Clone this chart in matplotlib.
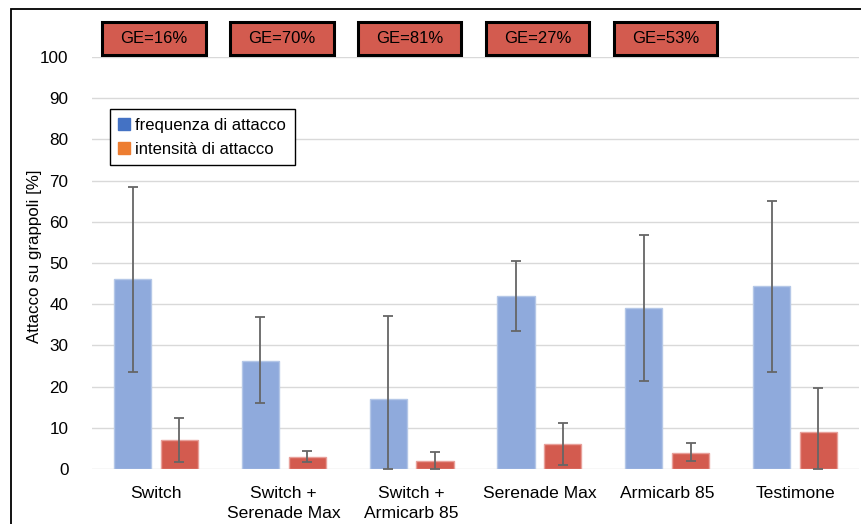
import matplotlib.pyplot as plt
import matplotlib.patches as mpatches
import matplotlib.transforms as mtransforms
import numpy as np

plt.rcParams['font.family'] = ['Liberation Sans', 'DejaVu Sans']

categories = ['Switch', 'Switch +\nSerenade Max', 'Switch +\nArmicarb 85',
              'Serenade Max', 'Armicarb 85', 'Testimone']
freq = [46.0, 26.3, 17.0, 42.0, 39.0, 44.3]
freq_low = [23.5, 16.0, 0.0, 33.5, 21.3, 23.5]
freq_high = [68.5, 37.0, 37.2, 50.5, 56.8, 65.0]
inten = [7.0, 3.0, 2.0, 6.0, 4.0, 9.0]
inten_low = [1.8, 1.8, 0.0, 1.0, 1.9, 0.0]
inten_high = [12.3, 4.3, 4.2, 11.2, 6.3, 19.7]
ge_labels = ['GE=16%', 'GE=70%', 'GE=81%', 'GE=27%', 'GE=53%']

W, H = 862, 524
fig = plt.figure(figsize=(W / 100, H / 100), dpi=100)
ax = fig.add_axes([92 / W, (H - 469) / H, (859 - 92) / W, (469 - 57) / H])

x = np.arange(len(categories))
bw = 0.29
off = 0.183

fe = [np.array(freq) - np.array(freq_low), np.array(freq_high) - np.array(freq)]
ie = [np.array(inten) - np.array(inten_low), np.array(inten_high) - np.array(inten)]

ax.bar(x - off, freq, bw, color='#8FAADC', edgecolor='#B4C7E7', linewidth=1, zorder=2)
ax.bar(x + off, inten, bw, color='#D35B4F', edgecolor='#E8A09A', linewidth=1, zorder=2)
ax.errorbar(x - off, freq, yerr=fe, fmt='none', ecolor='#666666', elinewidth=1.3,
            capsize=3.5, capthick=1.3, zorder=3)
ax.errorbar(x + off, inten, yerr=ie, fmt='none', ecolor='#666666', elinewidth=1.3,
            capsize=3.5, capthick=1.3, zorder=3)

ax.set_xlim(-0.5, len(categories) - 0.5)
ax.set_ylim(0, 100)
ax.set_yticks(np.arange(0, 101, 10))
ax.yaxis.grid(True, color='#D9D9D9', linewidth=1)
ax.set_axisbelow(True)
for s in ax.spines.values():
    s.set_visible(False)
ax.tick_params(axis='y', length=0, pad=17, labelsize=12.3)
ax.tick_params(axis='x', length=0, pad=12, labelsize=12.6)
ax.set_xticks(x)
ax.set_xticklabels(categories, linespacing=1.45)
ax.set_ylabel('Attacco su grappoli [%]', fontsize=12.2)
ax.yaxis.set_label_coords(-0.065, 0.517)

# legend with the default office colours
handles = [mpatches.Patch(color='#4472C4', label='frequenza di attacco'),
           mpatches.Patch(color='#ED7D31', label='intensità di attacco')]
leg = ax.legend(handles=handles, loc='upper left', bbox_to_anchor=(0.023, 0.873),
                borderaxespad=0, fontsize=12, handlelength=0.7, handleheight=0.7,
                handletextpad=0.35, labelspacing=0.55, fancybox=False, framealpha=1,
                borderpad=0.5)
leg.get_frame().set_edgecolor('black')
leg.get_frame().set_linewidth(1)

# GE boxes above the groups
trans = mtransforms.blended_transform_factory(ax.transData, ax.transAxes)
for i, lab in enumerate(ge_labels):
    r = mpatches.Rectangle((i - 0.42, 1.005), 0.81, 0.08, transform=trans,
                           facecolor='#D35B4F', edgecolor='black', linewidth=2.2,
                           clip_on=False)
    ax.add_patch(r)
    ax.text(i - 0.015, 1.045, lab, transform=trans, ha='center', va='center', fontsize=12)

# outer frame of the figure
frame = mpatches.Rectangle((11 / W, -0.1), 1.2, 0.1 + (H - 9) / H, transform=fig.transFigure,
                           facecolor='none', edgecolor='black', linewidth=1.3)
fig.patches.append(frame)

fig.savefig('out.png', dpi=100)
